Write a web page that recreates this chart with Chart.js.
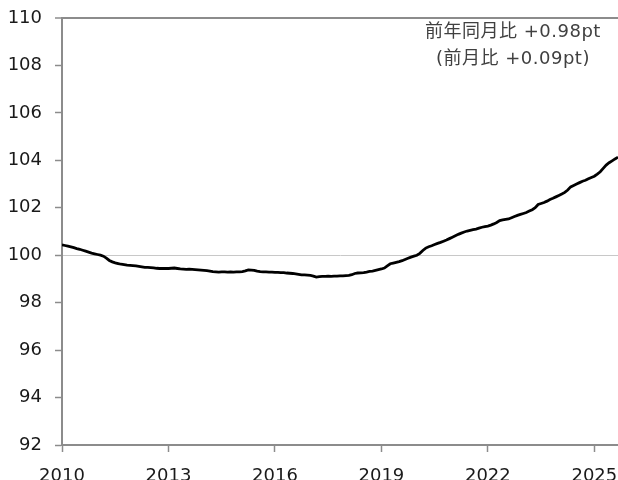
<!DOCTYPE html>
<html>
<head>
<meta charset="utf-8">
<script src="https://cdn.jsdelivr.net/npm/chart.js@4"></script>
<style>
html, body { margin: 0; padding: 0; background: #fff; }
#wrap { width: 618px; height: 480px; }
</style>
</head>
<body>
<div id="wrap"><canvas id="chart" width="618" height="480"></canvas></div>
<script>
// 月次データ（2010年1月〜2025年9月）
const startYear = 2010;
const values = [
    100.44, 100.41, 100.38, 100.35, 100.32, 100.28, 100.25, 100.21, 100.17, 100.13, 100.09, 100.06, // 2010
    100.03, 100.00, 99.96, 99.88, 99.78, 99.72, 99.68, 99.65, 99.62, 99.60, 99.58, 99.57,          // 2011
    99.56, 99.55, 99.53, 99.51, 99.49, 99.49, 99.48, 99.47, 99.45, 99.44, 99.44, 99.44,            // 2012
    99.44, 99.45, 99.46, 99.44, 99.42, 99.41, 99.40, 99.41, 99.40, 99.39, 99.38, 99.37,            // 2013
    99.36, 99.35, 99.33, 99.31, 99.30, 99.29, 99.30, 99.30, 99.29, 99.30, 99.29, 99.30,            // 2014
    99.30, 99.31, 99.34, 99.38, 99.37, 99.36, 99.33, 99.31, 99.30, 99.30, 99.29, 99.29,            // 2015
    99.28, 99.28, 99.27, 99.27, 99.25, 99.24, 99.23, 99.21, 99.19, 99.17, 99.17, 99.16,            // 2016
    99.15, 99.12, 99.08, 99.10, 99.11, 99.11, 99.12, 99.11, 99.12, 99.12, 99.13, 99.13,            // 2017
    99.14, 99.15, 99.18, 99.23, 99.25, 99.26, 99.27, 99.29, 99.32, 99.33, 99.36, 99.39,            // 2018
    99.42, 99.46, 99.55, 99.64, 99.67, 99.70, 99.73, 99.77, 99.82, 99.87, 99.92, 99.96,            // 2019
    100.00, 100.08, 100.20, 100.30, 100.36, 100.40, 100.45, 100.50, 100.54, 100.59, 100.64, 100.70, // 2020
    100.76, 100.82, 100.88, 100.93, 100.98, 101.02, 101.05, 101.08, 101.10, 101.14, 101.18, 101.21, // 2021
    101.23, 101.27, 101.32, 101.38, 101.46, 101.49, 101.51, 101.53, 101.58, 101.63, 101.68, 101.72, // 2022
    101.76, 101.80, 101.86, 101.92, 102.00, 102.14, 102.18, 102.22, 102.28, 102.35, 102.40, 102.46, // 2023
    102.52, 102.58, 102.65, 102.75, 102.88, 102.94, 103.00, 103.06, 103.12, 103.16, 103.22, 103.28, // 2024
    103.33, 103.42, 103.52, 103.66, 103.80, 103.90, 103.98, 104.06, 104.13                          // 2025
];
const xTicks = [2010, 2013, 2016, 2019, 2022, 2025];
const yTicks = [92, 94, 96, 98, 100, 102, 104, 106, 108, 110];
const noteLines = ['前年同月比 +0.98pt', '(前月比 +0.09pt)'];

const points = values.map((v, i) => ({ x: startYear + i / 12, y: v }));

// 右上の注記
const notePlugin = {
    id: 'note',
    afterDraw(chart) {
        const { ctx, chartArea } = chart;
        ctx.save();
        ctx.font = '18px "DejaVu Sans", "Noto Sans CJK JP"';
        ctx.letterSpacing = '0.5px';
        ctx.fillStyle = '#404040';
        ctx.textAlign = 'center';
        ctx.textBaseline = 'middle';
        const cx = chartArea.right - 105;
        noteLines.forEach((t, i) => ctx.fillText(t, cx, chartArea.top + 14 + i * 27));
        ctx.restore();
    }
};

const axisFont = { family: 'DejaVu Sans', size: 18 };

new Chart(document.getElementById('chart'), {
    type: 'line',
    data: {
        datasets: [{
            data: points,
            borderColor: '#000',
            borderWidth: 2.8,
            pointRadius: 0,
            tension: 0,
            fill: false
        }]
    },
    options: {
        responsive: false,
        animation: false,
        layout: { padding: { top: 18, right: 0, left: 0, bottom: 0 } },
        plugins: { legend: { display: false }, tooltip: { enabled: false } },
        scales: {
            x: {
                type: 'linear',
                min: startYear,
                max: points[points.length - 1].x,
                afterBuildTicks: scale => { scale.ticks = xTicks.map(v => ({ value: v })); },
                afterFit: scale => {
                    scale.height = 35;
                    scale.paddingLeft = 0;
                    scale.paddingRight = 0;
                },
                border: { color: '#8c8c8c', width: 2 },
                grid: { drawOnChartArea: false, tickLength: 7, tickColor: '#8c8c8c', tickWidth: 1.5 },
                ticks: { font: axisFont, color: '#1a1a1a', padding: 14, maxRotation: 0, autoSkip: false,
                    callback: v => String(v) }
            },
            y: {
                min: yTicks[0],
                max: yTicks[yTicks.length - 1],
                afterBuildTicks: scale => { scale.ticks = yTicks.map(v => ({ value: v })); },
                afterFit: scale => {
                    scale.width = 62;
                    scale.paddingTop = 0;
                    scale.paddingBottom = 0;
                },
                border: { color: '#8c8c8c', width: 2 },
                grid: {
                    color: c => c.tick && c.tick.value === 100 ? '#c8c8c8' : (c.tick && c.tick.value === 110 ? '#8c8c8c' : 'rgba(0,0,0,0)'),
                    lineWidth: c => c.tick && c.tick.value === 110 ? 2 : 1,
                    tickLength: 7, tickColor: '#8c8c8c', tickWidth: 1.5
                },
                ticks: { font: axisFont, color: '#1a1a1a', padding: 13 }
            }
        }
    },
    plugins: [notePlugin]
});
</script>
</body>
</html>
